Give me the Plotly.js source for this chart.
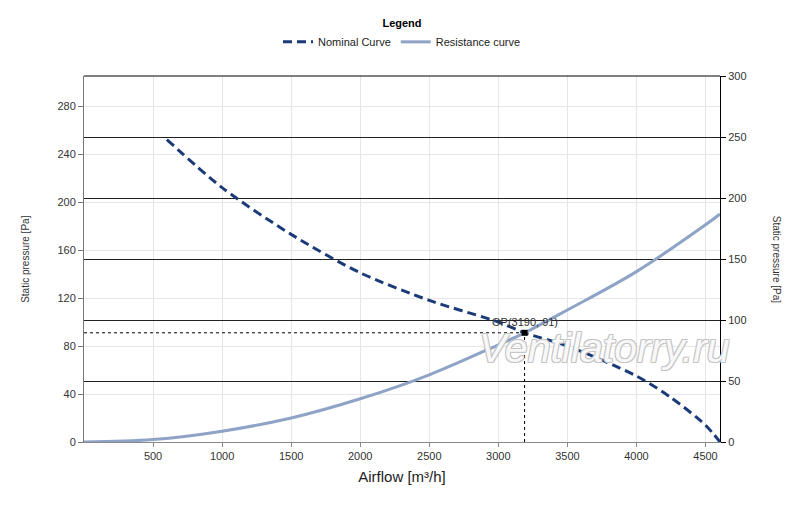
<!DOCTYPE html>
<html>
<head>
<meta charset="utf-8">
<script src="https://cdn.plot.ly/plotly-3.0.1.min.js"></script>
<style>
  html, body { margin: 0; padding: 0; background: #fff; }
  #chart { width: 800px; height: 507px; }
</style>
</head>
<body>
<div id="chart"></div>
<script>
// values
const airflowNominal = [600, 1000, 1500, 2000, 2500, 3000, 3190, 3500, 4000, 4250, 4500, 4605];
const pressureNominal = [252, 212, 173, 141, 118, 100, 91, 80, 55, 37, 14, 0];

const airflowResistance = [0, 500, 1000, 1500, 2000, 2500, 3000, 3190, 3500, 4000, 4500, 4605];
const pressureResistance = [0, 2, 9, 20, 36, 56, 81, 91, 110, 142, 181, 190];

// operating point
const opAirflow = [3190];
const opPressure = [91];

const xTicks = [500, 1000, 1500, 2000, 2500, 3000, 3500, 4000, 4500];
const yLeftTicks = [0, 40, 80, 120, 160, 200, 240, 280];
const yRightTicks = [0, 50, 100, 150, 200, 250, 300];

const tickFont = {family: 'Liberation Sans, Arial, sans-serif', size: 11, color: '#333'};

const traces = []

traces.push({
    name: 'Nominal Curve',
    x: airflowNominal,
    y: pressureNominal,
    mode: 'lines',
    type: 'scatter',
    line: {color: '#1b3a78', width: 3, dash: '9px,5px', shape: 'spline', smoothing: 0.8},
    hoverinfo: 'skip'
})

traces.push({
    name: 'Resistance curve',
    x: airflowResistance,
    y: pressureResistance,
    mode: 'lines',
    type: 'scatter',
    line: {color: '#8ea3c6', width: 3, shape: 'spline', smoothing: 1},
    hoverinfo: 'skip'
})

traces.push({
    name: 'OP',
    x: opAirflow,
    y: opPressure,
    mode: 'markers',
    type: 'scatter',
    marker: {symbol: 'square', size: 6, color: '#000'},
    showlegend: false,
    hoverinfo: 'skip'
})

// invisible trace so the right axis gets drawn
traces.push({
    x: [airflowNominal[0]],
    y: [null],
    yaxis: 'y2',
    mode: 'lines',
    type: 'scatter',
    showlegend: false,
    hoverinfo: 'skip'
})

const layout = {
    width: 800,
    height: 507,
    margin: {l: 84, r: 80, t: 76, b: 65, autoexpand: false},
    paper_bgcolor: '#fff',
    plot_bgcolor: '#fff',
    font: {family: 'Liberation Sans, Arial, sans-serif', color: '#222'},
    showlegend: true,
    legend: {
        orientation: 'h',
        x: 0.5,
        xanchor: 'center',
        y: 1.172,
        yanchor: 'top',
        font: {size: 11, color: '#222'},
        title: {text: '<b>Legend</b>', side: 'top center', font: {size: 11, color: '#000'}},
        itemwidth: 30,
        tracegroupgap: 0
    },
    xaxis: {
        range: [0, 4605],
        tickvals: xTicks,
        ticktext: xTicks.map(String),
        tickfont: tickFont,
        ticks: 'outside',
        ticklen: 4,
        tickcolor: '#888',
        showgrid: true,
        gridcolor: '#e6e6e6',
        gridwidth: 1,
        showline: true,
        linecolor: '#888',
        linewidth: 1,
        zeroline: false,
        title: {text: 'Airflow [m³/h]', font: {size: 15, color: '#222'}, standoff: 10}
    },
    yaxis: {
        range: [0, 305],
        tickvals: yLeftTicks,
        tickfont: tickFont,
        ticks: 'outside',
        ticklen: 5,
        tickcolor: '#777',
        showgrid: true,
        gridcolor: '#e6e6e6',
        gridwidth: 1,
        showline: true,
        linecolor: '#777',
        linewidth: 1,
        zeroline: false
    },
    yaxis2: {
        range: [0, 300],
        overlaying: 'y',
        side: 'right',
        tickvals: yRightTicks,
        tickfont: tickFont,
        ticks: 'outside',
        ticklen: 5,
        tickcolor: '#000',
        showgrid: true,
        gridcolor: '#222',
        gridwidth: 1,
        showline: true,
        linecolor: '#000',
        linewidth: 1,
        zeroline: false
    },
    shapes: [
        // top border
        {type: 'line', xref: 'paper', yref: 'paper', x0: 0, x1: 1, y0: 1, y1: 1,
         line: {color: '#000', width: 1}},
        // OP guide lines
        {type: 'line', xref: 'x', yref: 'y', x0: 0, x1: opAirflow[0], y0: opPressure[0], y1: opPressure[0],
         line: {color: '#000', width: 1, dash: 'dot'}},
        {type: 'line', xref: 'x', yref: 'y', x0: opAirflow[0], x1: opAirflow[0], y0: 0, y1: opPressure[0],
         line: {color: '#000', width: 1, dash: 'dot'}}
    ],
    annotations: [
        {text: 'Ventilatorry.ru', xref: 'paper', yref: 'paper', x: 0.818, y: 0.256,
         xanchor: 'center', yanchor: 'middle', showarrow: false,
         font: {size: 41, color: '#f8f8f8', style: 'italic',
                shadow: '1px 1px 0 #c4c4c4, -1px -1px 0 #c4c4c4, 1px -1px 0 #c4c4c4, -1px 1px 0 #c4c4c4'}},
        {text: 'OP(' + opAirflow[0] + ', ' + opPressure[0] + ')', x: opAirflow[0], y: opPressure[0],
         xref: 'x', yref: 'y', showarrow: false, xanchor: 'center', yanchor: 'bottom', yshift: 3,
         font: {size: 11, color: '#333'}},
        {text: 'Static pressure [Pa]', xref: 'paper', yref: 'paper', x: -0.093, y: 0.5,
         xanchor: 'center', yanchor: 'middle',
         showarrow: false, textangle: -90, font: {size: 10, color: '#333'}},
        {text: 'Static pressure [Pa]', xref: 'paper', yref: 'paper', x: 1.09, y: 0.5,
         xanchor: 'center', yanchor: 'middle',
         showarrow: false, textangle: 90, font: {size: 10, color: '#333'}}
    ]
}

Plotly.newPlot('chart', traces, layout, {staticPlot: true, displayModeBar: false});
</script>
</body>
</html>
